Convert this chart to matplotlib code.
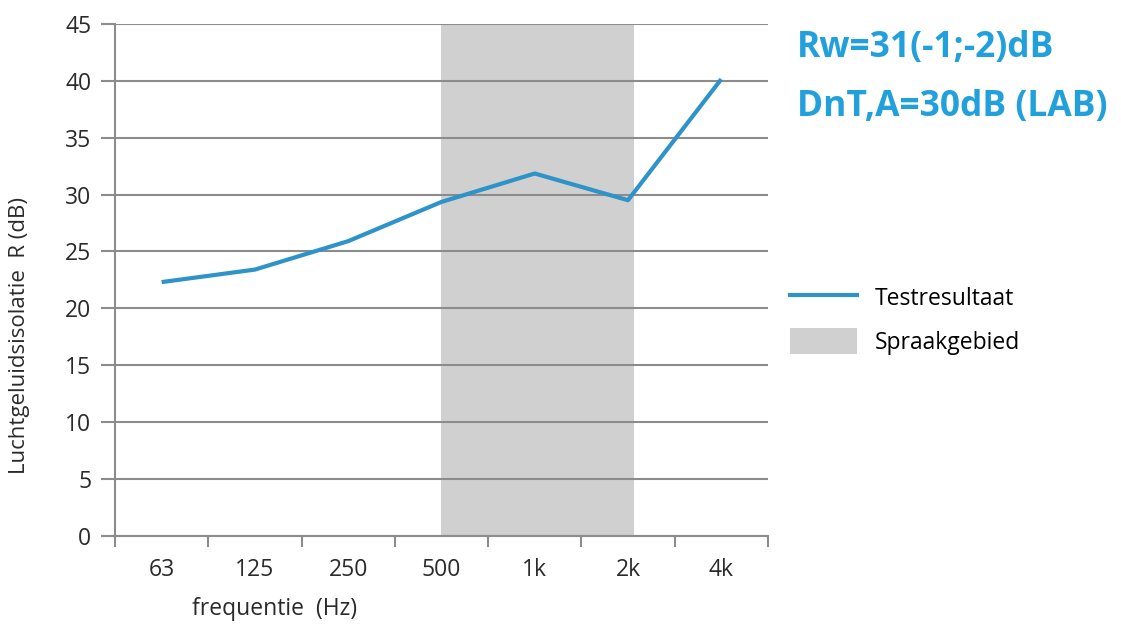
import matplotlib.pyplot as plt
from matplotlib.lines import Line2D
from matplotlib.patches import Patch

# frequentiebanden en meetwaarden
freqs = ["63", "125", "250", "500", "1k", "2k", "4k"]
R_dB = [22.3, 23.4, 25.9, 29.35, 31.85, 29.5, 40.15]
yticks = [0, 5, 10, 15, 20, 25, 30, 35, 40, 45]

line_col = "#2E93C8"
text_col = "#22A0DB"
grid_col = "#8C8C8C"
band_col = "#D0D0D0"
lab_col = "#2A2A2A"

plt.rcParams["font.family"] = ["Open Sans", "DejaVu Sans"]

fig = plt.figure(figsize=(11.21, 6.26), dpi=100)
ax = fig.add_axes([0.1026, 0.1443, 0.5824, 0.8174])

x = list(range(len(freqs)))

# spraakgebied (500 Hz - 2 kHz)
ax.axvspan(3, 5.06, color=band_col, zorder=1, lw=0)

ax.plot(x, R_dB, color=line_col, lw=3, zorder=3, solid_capstyle="butt")

ax.set_xlim(-0.5, len(freqs) - 0.5)
ax.set_ylim(0, 45)
ax.set_yticks(yticks)
ax.set_xticks(x)
ax.set_xticklabels(freqs)
ax.set_xticks([i - 0.5 for i in range(len(freqs) + 1)], minor=True)

ax.grid(axis="y", color=grid_col, lw=1.5, zorder=2)
ax.set_axisbelow(False)
for s in ["top", "right"]:
    ax.spines[s].set_visible(False)
for s in ["left", "bottom"]:
    ax.spines[s].set_color(grid_col)
    ax.spines[s].set_linewidth(1.5)
    ax.spines[s].set_zorder(2.5)

ax.tick_params(axis="y", length=10, width=1.5, color=grid_col, labelsize=16.5,
               pad=7, labelcolor=lab_col)
ax.tick_params(axis="x", which="major", length=0, labelsize=16.5, pad=16,
               labelcolor=lab_col)
ax.tick_params(axis="x", which="minor", length=8, width=1.5, color=grid_col)

fig.text(20 / 1121, 1 - 335 / 626, "Luchtgeluidsisolatie  R (dB)", rotation=90,
         ha="center", va="center", fontsize=16, color=lab_col)
fig.text(275 / 1121, 1 - 609 / 626, "frequentie  (Hz)", ha="center",
         va="center", fontsize=16.5, color=lab_col)

fig.text(797 / 1121, 1 - 48 / 626, "Rw=31(-1;-2)dB", ha="left", va="center",
         fontsize=25.5, fontweight="bold", color=text_col)
fig.text(797 / 1121, 1 - 107 / 626, "DnT,A=30dB (LAB)", ha="left", va="center",
         fontsize=25.5, fontweight="bold", color=text_col)

handles = [Line2D([], [], color=line_col, lw=3),
           Patch(color=band_col, lw=0)]
fig.legend(handles, ["Testresultaat", "Spraakgebied"],
           loc="upper left", bbox_to_anchor=(772 / 1121, 1 - 266 / 626),
           frameon=False, fontsize=16.5, handlelength=2.9, handleheight=1.4,
           handletextpad=0.8, labelspacing=0.72, borderpad=0.3)

fig.savefig("out.png", dpi=100)
